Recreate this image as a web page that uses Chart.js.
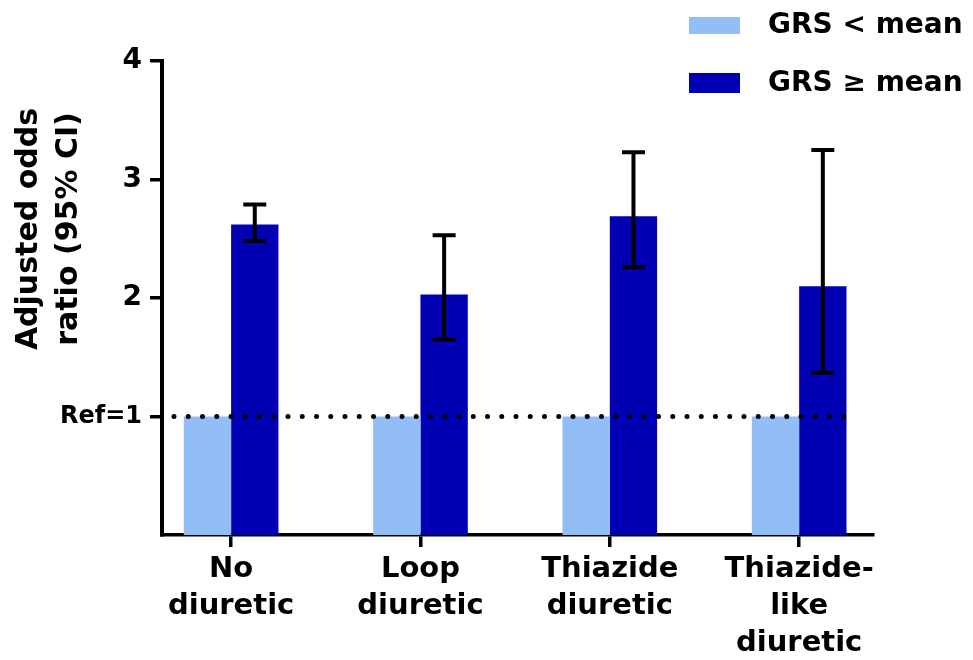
<!DOCTYPE html>
<html>
<head>
<meta charset="utf-8">
<script src="https://cdn.jsdelivr.net/npm/chart.js@4.4.0/dist/chart.umd.min.js"></script>
<style>
  html, body { margin: 0; padding: 0; background: #ffffff; }
  #c { display: block; }
</style>
</head>
<body>
<canvas id="c" width="973" height="660"></canvas>
<script>
// Odds ratios by diuretic use, split by genetic risk score (GRS)
const categories = [['No', 'diuretic'], ['Loop', 'diuretic'], ['Thiazide', 'diuretic'], ['Thiazide-', 'like', 'diuretic']];
const seriesNames = ['GRS < mean', 'GRS \u2265 mean'];
const belowMean = [1, 1, 1, 1];
const aboveMean = [2.62, 2.03, 2.69, 2.10];
const ciLower = [2.48, 1.65, 2.26, 1.37];
const ciUpper = [2.79, 2.53, 3.23, 3.25];
const yTicks = [1, 2, 3, 4];
const yTickLabels = ['Ref=1', '2', '3', '4'];
const refValue = 1;
const yTitle = ['Adjusted odds', 'ratio (95% CI)'];

const FONT = 'DejaVu Sans';
const BLACK = '#000000';
const LIGHT = '#92BEF5';
const DARK = '#0101B3';

Chart.defaults.font.family = FONT;
Chart.defaults.font.weight = 'bold';
Chart.defaults.color = BLACK;

const toPoints = vals => vals.map((v, i) => ({ x: i, y: v }));

// dotted reference line at OR = 1
const refLinePlugin = {
  id: 'refLine',
  afterDatasetsDraw(chart) {
    const { ctx, chartArea, scales } = chart;
    const y = scales.y.getPixelForValue(refValue);
    ctx.save();
    ctx.strokeStyle = BLACK;
    ctx.lineWidth = 5;
    ctx.lineCap = 'round';
    ctx.setLineDash([0, 14.25]);
    ctx.beginPath();
    ctx.moveTo(chartArea.left + 12, y);
    ctx.lineTo(chartArea.right - 16, y);
    ctx.stroke();
    ctx.restore();
  }
};

// 95% CI whiskers on the upper-GRS bars
const errorBarPlugin = {
  id: 'errorBars',
  afterDatasetsDraw(chart) {
    const { ctx, scales } = chart;
    const meta = chart.getDatasetMeta(1);
    ctx.save();
    ctx.strokeStyle = BLACK;
    ctx.lineWidth = 4;
    ctx.lineCap = 'butt';
    meta.data.forEach((bar, i) => {
      const x = bar.x;
      const yHi = scales.y.getPixelForValue(ciUpper[i]);
      const yLo = scales.y.getPixelForValue(ciLower[i]);
      const half = 11.5;
      ctx.beginPath();
      ctx.moveTo(x, yHi);
      ctx.lineTo(x, yLo);
      ctx.moveTo(x - half, yHi);
      ctx.lineTo(x + half, yHi);
      ctx.moveTo(x - half, yLo);
      ctx.lineTo(x + half, yLo);
      ctx.stroke();
    });
    ctx.restore();
  }
};

// rotated two-line y-axis title and the stacked legend in the top-right corner
const annotationPlugin = {
  id: 'annotations',
  afterDraw(chart) {
    const { ctx } = chart;
    ctx.save();
    ctx.fillStyle = BLACK;
    ctx.font = 'bold 30px "' + FONT + '"';
    ctx.textAlign = 'center';
    ctx.textBaseline = 'alphabetic';
    ctx.translate(37, 229);
    ctx.rotate(-Math.PI / 2);
    yTitle.forEach((line, i) => ctx.fillText(line, 0, i * 40));
    ctx.restore();

    ctx.save();
    const rows = [{ boxTop: 17, boxH: 17, base: 33 }, { boxTop: 73, boxH: 20, base: 91 }];
    chart.data.datasets.forEach((ds, i) => {
      const r = rows[i];
      ctx.fillStyle = ds.backgroundColor;
      ctx.fillRect(689, r.boxTop, 51, r.boxH);
      ctx.fillStyle = BLACK;
      ctx.font = 'bold 28px "' + FONT + '"';
      ctx.textAlign = 'left';
      ctx.textBaseline = 'alphabetic';
      ctx.fillText(ds.label, 768, r.base);
    });
    ctx.restore();
  }
};

new Chart(document.getElementById('c'), {
  type: 'bar',
  data: {
    datasets: [
      { label: seriesNames[0], data: toPoints(belowMean), backgroundColor: LIGHT },
      { label: seriesNames[1], data: toPoints(aboveMean), backgroundColor: DARK }
    ]
  },
  options: {
    responsive: false,
    animation: false,
    devicePixelRatio: 1,
    layout: { padding: { top: 61, right: 100, left: 0, bottom: 0 } },
    datasets: {
      bar: { categoryPercentage: 0.5, barPercentage: 1.0, borderWidth: 0 }
    },
    plugins: {
      legend: { display: false },
      tooltip: { enabled: false }
    },
    scales: {
      x: {
        type: 'linear',
        min: -0.365,
        max: 3.39,
        offset: false,
        afterBuildTicks: scale => { scale.ticks = categories.map((c, i) => ({ value: i })); },
        afterFit: scale => { scale.height = 125; },
        ticks: {
          autoSkip: false,
          maxRotation: 0,
          minRotation: 0,
          padding: 4,
          color: BLACK,
          font: { size: 29, weight: 'bold', lineHeight: 1.28 },
          callback: v => categories[v]
        },
        grid: {
          offset: false,
          drawOnChartArea: false,
          drawTicks: true,
          tickLength: 12,
          lineWidth: 3.5,
          color: BLACK
        },
        border: { display: true, width: 3.5, color: BLACK }
      },
      y: {
        min: 0,
        max: 4,
        afterBuildTicks: scale => { scale.ticks = yTicks.map(v => ({ value: v })); },
        afterFit: scale => { scale.width = 162; },
        ticks: {
          padding: 8,
          color: BLACK,
          font: ctx => ({ size: ctx.tick && ctx.tick.value === refValue ? 24 : 28, weight: 'bold' }),
          callback: v => yTickLabels[yTicks.indexOf(v)]
        },
        grid: {
          drawOnChartArea: false,
          drawTicks: true,
          tickLength: 12,
          lineWidth: 3.5,
          color: BLACK
        },
        border: { display: true, width: 4, color: BLACK }
      }
    }
  },
  plugins: [refLinePlugin, errorBarPlugin, annotationPlugin]
});
</script>
</body>
</html>
